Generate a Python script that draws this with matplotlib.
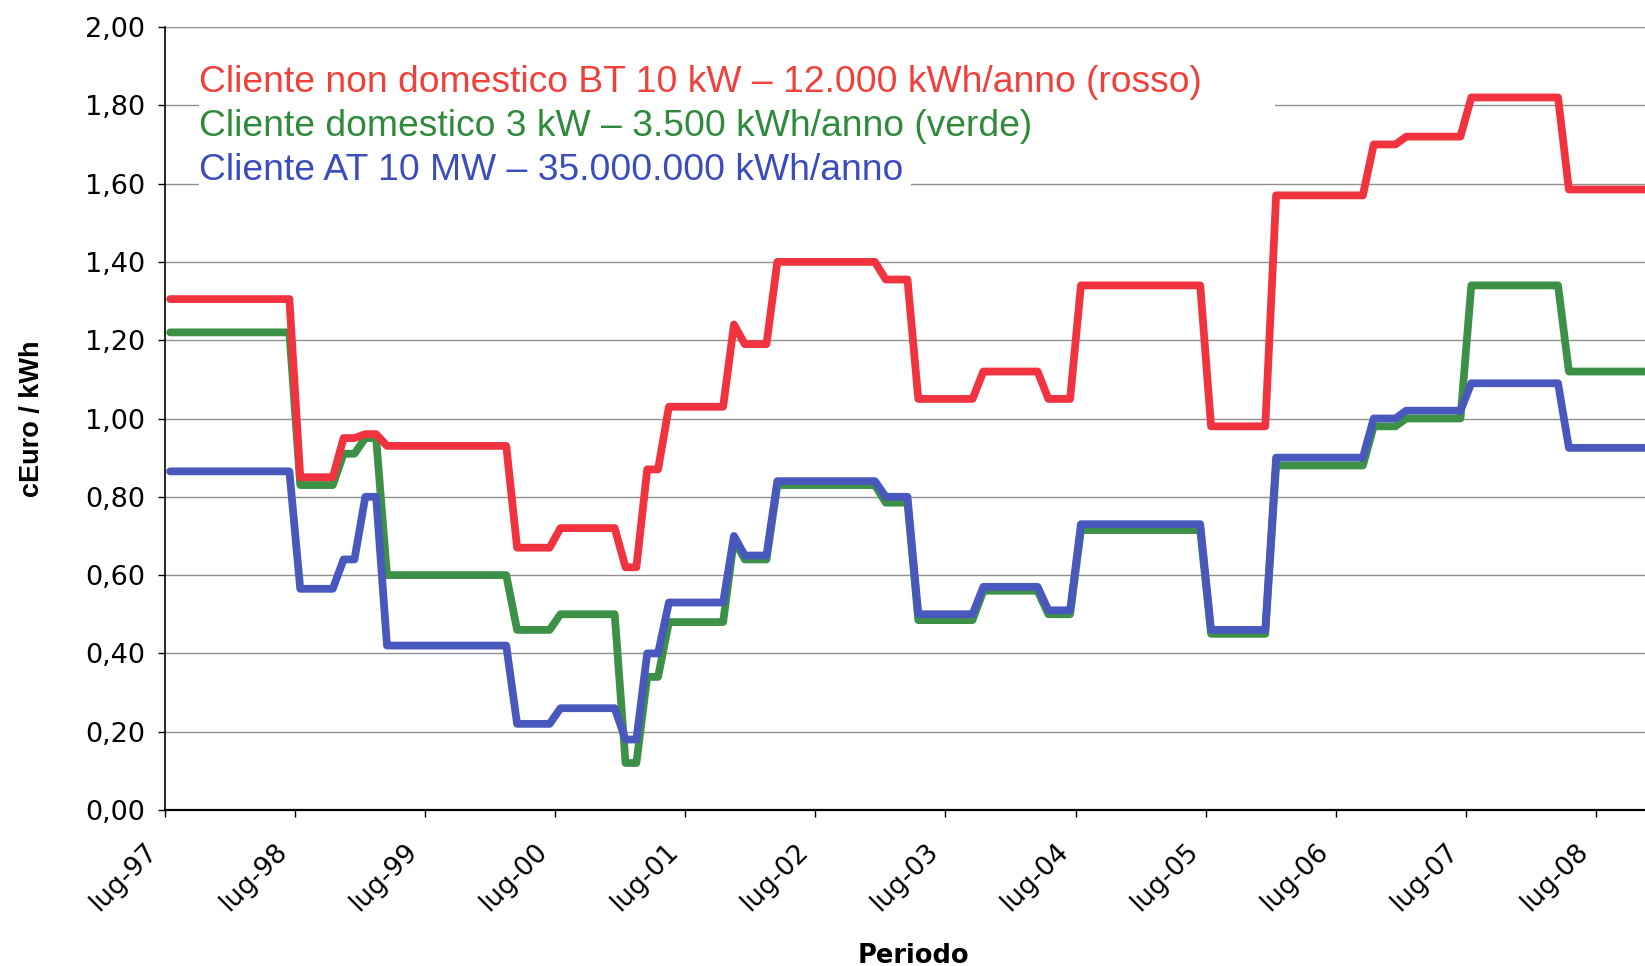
import numpy as np
import matplotlib
matplotlib.use('Agg')
import matplotlib.pyplot as plt
import matplotlib.transforms as mtransforms
from matplotlib.patches import Rectangle

# durata in mesi di ogni periodo, a partire da luglio 1997 (un punto a metà di ogni mese)
mesi = [12, 4, 2, 2, 12, 4, 6, 2, 2, 6, 1, 3, 10, 3, 6, 6, 3, 12, 6, 9, 3, 6, 9, 9]

# valori (cEuro/kWh) per periodo
rosso = [1.305, 0.85, 0.95, 0.96, 0.93, 0.67, 0.72, 0.62, 0.87, 1.03, 1.24, 1.19,
         1.40, 1.355, 1.05, 1.12, 1.05, 1.34, 0.98, 1.57, 1.70, 1.72, 1.82, 1.585]
verde = [1.22, 0.83, 0.91, 0.95, 0.60, 0.46, 0.50, 0.12, 0.34, 0.48, 0.69, 0.64,
         0.83, 0.785, 0.485, 0.56, 0.50, 0.715, 0.45, 0.88, 0.98, 1.00, 1.34, 1.12]
blu = [0.865, 0.565, 0.64, 0.80, 0.42, 0.22, 0.26, 0.18, 0.40, 0.53, 0.70, 0.65,
       0.84, 0.80, 0.50, 0.57, 0.51, 0.73, 0.46, 0.90, 1.00, 1.02, 1.09, 0.925]

etichette = ['lug-97', 'lug-98', 'lug-99', 'lug-00', 'lug-01', 'lug-02',
             'lug-03', 'lug-04', 'lug-05', 'lug-06', 'lug-07', 'lug-08']

testi = ['Cliente non domestico BT 10 kW \u2013 12.000 kWh/anno (rosso)',
         'Cliente domestico 3 kW \u2013 3.500 kWh/anno (verde)',
         'Cliente AT 10 MW \u2013 35.000.000 kWh/anno']

col_rosso = '#f0333e'
col_verde = '#3d9146'
col_blu = '#4858bd'

W, H = 1645, 966
fig = plt.figure(figsize=(W / 100, H / 100), dpi=100)
# bordi dell'area del grafico in pixel
x0, x1, ytop, ybot = 164.7, 1645, 27, 810
ax = fig.add_axes([x0 / W, 1 - ybot / H, (x1 - x0) / W, (ybot - ytop) / H])

x = np.arange(sum(mesi)) + 0.5
stile = dict(lw=5.6, solid_joinstyle='round', solid_capstyle='round')
ax.plot(x, np.repeat(verde, mesi), color=col_verde, zorder=3, **stile)
ax.plot(x, np.repeat(blu, mesi), color=col_blu, zorder=4, **stile)
ax.plot(x, np.repeat(rosso, mesi), color=col_rosso, zorder=5, **stile)

ppm = (1596 - x0) / 132  # pixel per mese
ax.set_xlim(0, (x1 - x0) / ppm)
ax.set_ylim(0, 2)
yt = np.arange(0, 2.01, 0.2)
ax.set_yticks(yt)
ax.set_yticklabels([('%.2f' % v).replace('.', ',') for v in yt])
ax.set_xticks(np.arange(len(etichette)) * 12)
ax.set_xticklabels(etichette, rotation=45, ha='right', va='center', rotation_mode='anchor')

ax.grid(axis='y', color='#909090', lw=1.0, zorder=0)
ax.set_axisbelow(True)
for s in ['top', 'right']:
    ax.spines[s].set_visible(False)
ax.spines['left'].set_linewidth(1.2)
ax.spines['bottom'].set_linewidth(1.6)
ax.tick_params(axis='y', direction='out', length=5, width=1, pad=9, labelsize=19.5)
ax.tick_params(axis='x', direction='out', length=5, width=1, pad=22, labelsize=19)
sposta = mtransforms.ScaledTranslation(-11 / 100, 0, fig.dpi_scale_trans)
for t in ax.get_xticklabels():
    t.set_fontfamily('DejaVu Sans')
    t.set_transform(t.get_transform() + sposta)
for t in ax.get_yticklabels():
    t.set_fontfamily('DejaVu Sans')

ax.set_ylabel('cEuro / kWh', fontsize=19.5, fontweight='bold', family='Liberation Sans')
ax.yaxis.set_label_coords((45 - x0) / (x1 - x0), 0.5)
ax.set_xlabel('Periodo', fontsize=18.5, fontweight='bold', family='DejaVu Sans')
ax.xaxis.set_label_coords((913 - x0) / (x1 - x0), -(943 - ybot) / (ybot - ytop))


def ax_xy(px, py):
    return (px - x0) / (x1 - x0), (ybot - py) / (ybot - ytop)


# riquadro bianco della legenda
for (a, b, c, d) in [(199, 55, 1275, 150), (199, 145, 911, 192)]:
    xa, ya = ax_xy(a, d)
    xb, yb = ax_xy(c, b)
    ax.add_patch(Rectangle((xa, ya), xb - xa, yb - ya, transform=ax.transAxes,
                           facecolor='white', edgecolor='none', zorder=1))

for testo, col, py in zip(testi, ['#f0403a', '#2f8a3c', '#3b4dbd'], [82, 127, 171]):
    tx, ty = ax_xy(199, py)
    ax.text(tx, ty, testo, transform=ax.transAxes, color=col, fontsize=26.8,
            family='Liberation Sans', va='center', ha='left', zorder=6)

fig.savefig('out.png', dpi=100)
